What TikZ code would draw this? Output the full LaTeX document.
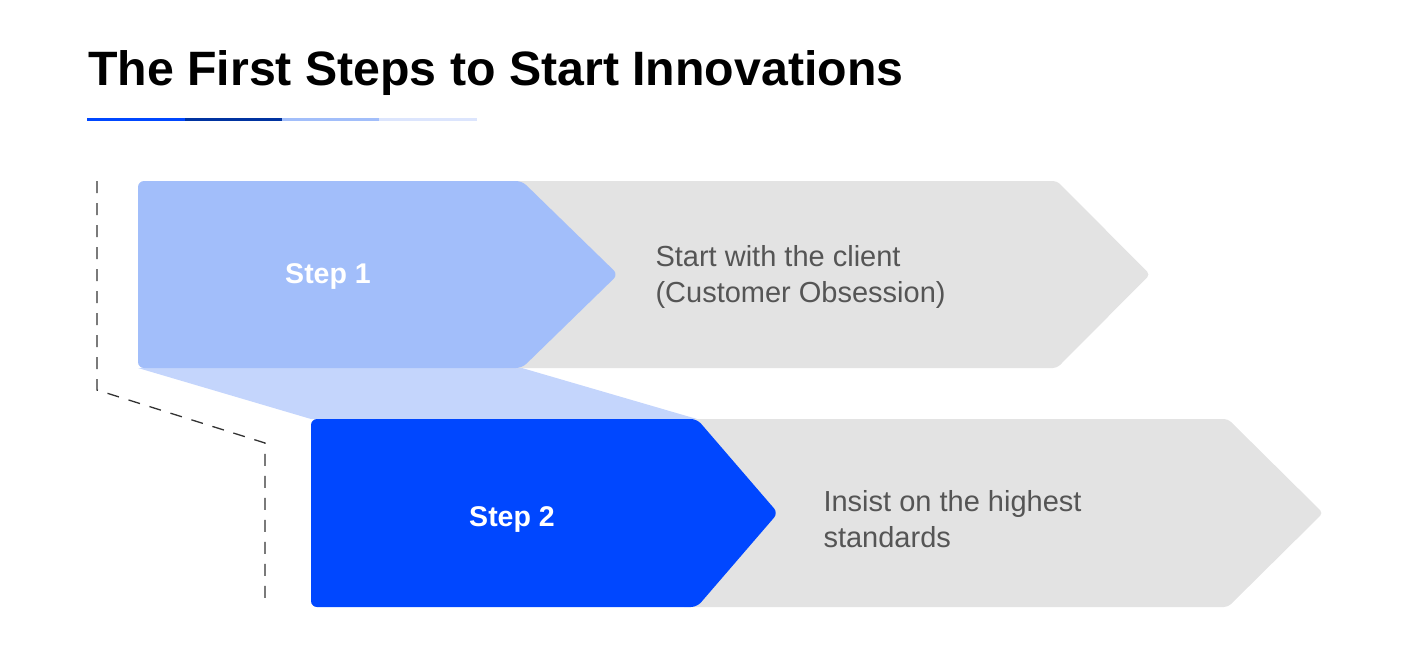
\documentclass[tikz,border=0pt]{standalone}
\usepackage{fontspec}
\setmainfont{Liberation Sans}
\usepackage{graphicx}
\definecolor{lblue}{HTML}{A2BEFA}
\definecolor{xblue}{HTML}{C4D5FC}
\definecolor{mblue}{HTML}{0047FF}
\definecolor{dblue}{HTML}{0033A0}
\definecolor{pblue}{HTML}{DCE5FD}
\definecolor{gbox}{HTML}{E3E3E3}
\definecolor{gtext}{HTML}{555555}
\begin{document}
\begin{tikzpicture}[x=1pt,y=-1pt,
  steptxt/.style={text=white,font=\fontsize{28.5}{32}\selectfont\bfseries},
  desctxt/.style={text=gtext,font=\fontsize{29}{36}\selectfont,align=left,anchor=west}]
\useasboundingbox (0,0) rectangle (1420,662);
% title
\node[anchor=south west,inner sep=0] (title) at (88,96) {\resizebox{815pt}{!}{\bfseries The First Steps to Start Innovations}};
\fill[mblue] (87,117.5) rectangle (185,121);
\fill[dblue] (185,117.5) rectangle (282,121);
\fill[lblue] (282,117.5) rectangle (379,121);
\fill[pblue] (379,117.5) rectangle (477,121);
% dashed guide
\coordinate (d1) at (97,181); \coordinate (d2) at (97,390);
\coordinate (d3) at (265,443); \coordinate (d4) at (265,607);
\draw[dashed,dash pattern=on 12pt off 10pt,line width=1.3pt,black!80] (d1)--(d2)--(d3)--(d4);
% connector
\fill[xblue] (138,368)--(522,368)--(697,419)--(311,419)--cycle;
% step 1
\fill[gbox,rounded corners=4pt] (500,181)--(1057,181)--(1150,274.5)--(1057,368)--(500,368)--cycle;
\fill[lblue,rounded corners=6pt] (138,181)--(522,181)--(618,274.5)--(522,368)--(138,368)--cycle;
\node[steptxt] (s1) at (328,276) {Step 1};
\node[desctxt] (t1) at (652,277) {Start with the client\\(Customer Obsession)};
% step 2
\fill[gbox,rounded corners=4pt] (680,419)--(1228,419)--(1323,513)--(1228,607)--(680,607)--cycle;
\fill[mblue,rounded corners=6pt] (311,419)--(697,419)--(778,513)--(697,607)--(311,607)--cycle;
\node[steptxt] (s2) at (512,519) {Step 2};
\node[desctxt] (t2) at (820,519) {Insist on the highest\\standards};
\end{tikzpicture}
\end{document}
